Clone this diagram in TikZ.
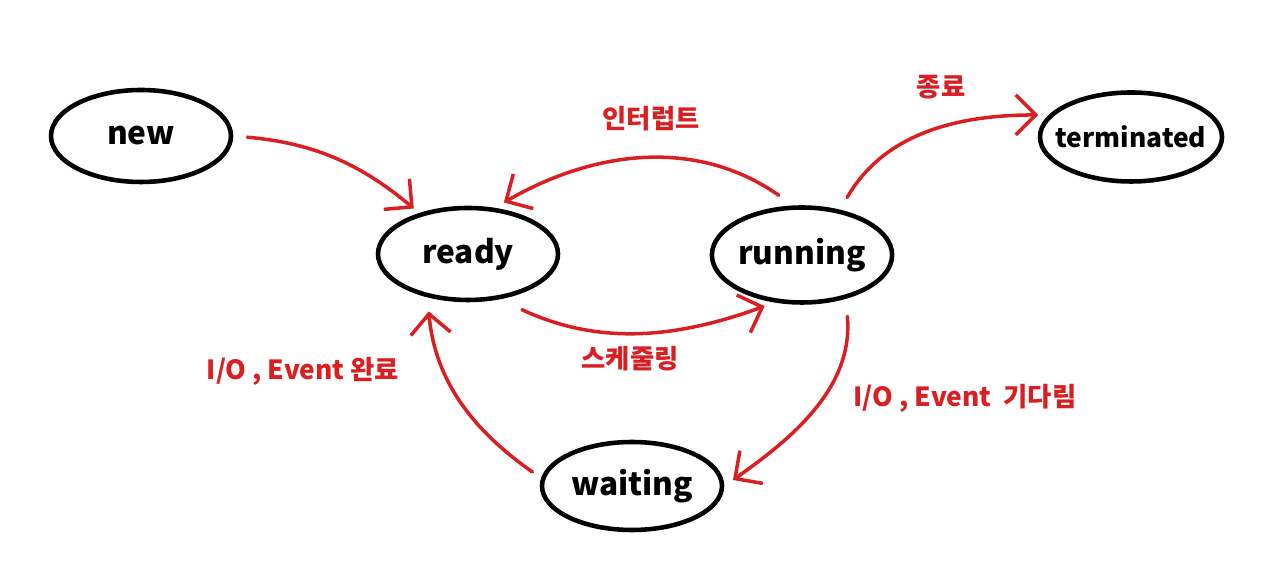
\documentclass[tikz,border=0pt]{standalone}
\usepackage{fontspec}
\setmainfont{Noto Sans CJK KR}
\usetikzlibrary{shapes.geometric,arrows.meta}
\definecolor{flowred}{RGB}{218,30,34}
\begin{document}
\begin{tikzpicture}[x=1cm,y=1cm,
  state/.style={ellipse,draw,line width=1.3pt,minimum width=1.8cm,minimum height=0.92cm,
    inner sep=0pt,font=\fontsize{9}{11}\selectfont\bfseries},
  flow/.style={draw=flowred,line width=1pt,line cap=round,
    -{Straight Barb[length=2mm,width=4mm,line width=1pt]}},
  lbl/.style={text=flowred,font=\fontsize{7.5}{9}\selectfont\bfseries}]
  \useasboundingbox (0,0) rectangle (12.8,5.78);
  \node[state] (new) at (1.41,4.42) {new};
  \node[state] (ready) at (4.68,3.24) {ready};
  \node[state,minimum height=0.95cm] (running) at (8.02,3.23) {running};
  \node[state,minimum width=1.82cm,minimum height=0.89cm,font=\fontsize{7.5}{9}\selectfont\bfseries] (term) at (11.31,4.41) {\makebox[0pt]{terminated}};
  \node[state,minimum height=0.88cm] (waiting) at (6.32,0.92) {waiting};

  \draw[flow,shorten <=4pt,shorten >=2pt] (new.east) to[out=-5,in=140] (ready.140);
  \draw[flow,shorten <=5pt,shorten >=3pt] (running.100) to[out=145,in=30] (ready.60);
  \draw[flow,shorten <=4pt,shorten >=3pt] (running.50) to[out=60,in=180] (term.165);
  \draw[flow,shorten <=7pt,shorten >=3pt] (ready.-55) to[out=-25,in=-160] (running.-120);
  \draw[flow,shorten <=5pt,shorten >=3pt] (running.-45) to[out=-85,in=35] (waiting.east);
  \draw[flow,shorten <=3pt,shorten >=4pt] (waiting.175) to[out=145,in=-85] (ready.-133);

  \node[lbl] (intr) at (6.51,4.59) {인터럽트};
  \node[lbl] (exit) at (9.41,4.91) {종료};
  \node[lbl] (sched) at (6.30,2.19) {스케줄링};
  \node[lbl] (iodone) at (3.03,2.07) {I/O , Event 완료};
  \node[lbl] (iowait) at (9.65,1.80) {I/O , Event~~기다림};
\end{tikzpicture}
\end{document}
